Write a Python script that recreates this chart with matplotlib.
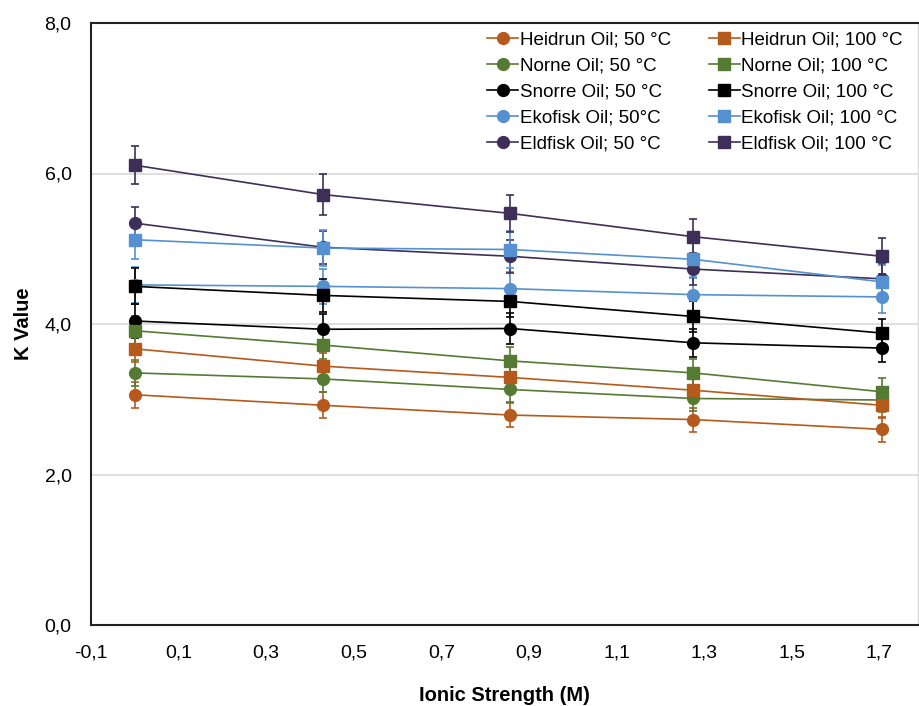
import matplotlib.pyplot as plt
from matplotlib.lines import Line2D

plt.rcParams['font.family'] = ['Liberation Sans', 'DejaVu Sans']

# ionic strength (M)
ionic = [0.0, 0.43, 0.857, 1.275, 1.705]

# K values, 50 °C series
heidrun_50 = [3.06, 2.92, 2.79, 2.73, 2.60]
norne_50 = [3.35, 3.27, 3.13, 3.01, 2.99]
snorre_50 = [4.04, 3.93, 3.94, 3.75, 3.68]
ekofisk_50 = [4.52, 4.50, 4.47, 4.39, 4.36]
eldfisk_50 = [5.34, 5.02, 4.90, 4.73, 4.60]

# K values, 100 °C series
heidrun_100 = [3.67, 3.44, 3.29, 3.12, 2.92]
norne_100 = [3.91, 3.72, 3.51, 3.35, 3.10]
snorre_100 = [4.50, 4.38, 4.30, 4.10, 3.88]
ekofisk_100 = [5.12, 5.01, 4.99, 4.86, 4.56]
eldfisk_100 = [6.11, 5.72, 5.47, 5.16, 4.90]

# error bars
heidrun_50_err = [0.17, 0.17, 0.16, 0.16, 0.17]
norne_50_err = [0.17, 0.17, 0.16, 0.16, 0.16]
snorre_50_err = [0.22, 0.20, 0.20, 0.19, 0.18]
ekofisk_50_err = [0.24, 0.23, 0.22, 0.22, 0.21]
eldfisk_50_err = [0.21, 0.22, 0.22, 0.21, 0.20]
heidrun_100_err = [0.18, 0.18, 0.17, 0.17, 0.17]
norne_100_err = [0.19, 0.19, 0.18, 0.18, 0.18]
snorre_100_err = [0.24, 0.22, 0.21, 0.20, 0.18]
ekofisk_100_err = [0.25, 0.24, 0.24, 0.23, 0.22]
eldfisk_100_err = [0.25, 0.27, 0.25, 0.23, 0.24]

xticks = [-0.1, 0.1, 0.3, 0.5, 0.7, 0.9, 1.1, 1.3, 1.5, 1.7]
xtick_labels = ['-0,1', '0,1', '0,3', '0,5', '0,7', '0,9', '1,1', '1,3', '1,5', '1,7']
yticks = [0, 2, 4, 6, 8]
ytick_labels = ['0,0', '2,0', '4,0', '6,0', '8,0']

c_heidrun = '#B55A1C'
c_norne = '#557A32'
c_snorre = '#000000'
c_ekofisk = '#5591D0'
c_eldfisk = '#3E2F58'

series = [
    ('Heidrun Oil; 50 °C', heidrun_50, heidrun_50_err, c_heidrun, 'o'),
    ('Norne Oil; 50 °C', norne_50, norne_50_err, c_norne, 'o'),
    ('Snorre Oil; 50 °C', snorre_50, snorre_50_err, c_snorre, 'o'),
    ('Ekofisk Oil; 50°C', ekofisk_50, ekofisk_50_err, c_ekofisk, 'o'),
    ('Eldfisk Oil; 50 °C', eldfisk_50, eldfisk_50_err, c_eldfisk, 'o'),
    ('Heidrun Oil; 100 °C', heidrun_100, heidrun_100_err, c_heidrun, 's'),
    ('Norne Oil; 100 °C', norne_100, norne_100_err, c_norne, 's'),
    ('Snorre Oil; 100 °C', snorre_100, snorre_100_err, c_snorre, 's'),
    ('Ekofisk Oil; 100 °C', ekofisk_100, ekofisk_100_err, c_ekofisk, 's'),
    ('Eldfisk Oil; 100 °C', eldfisk_100, eldfisk_100_err, c_eldfisk, 's'),
]

fig = plt.figure(figsize=(9.19, 7.06), dpi=100)
ax = fig.add_axes([91 / 919, 1 - 625 / 706, 827 / 919, 602 / 706])

handles = []
for label, y, err, color, marker in series:
    ms = 8.5 if marker == 'o' else 8.2
    ax.errorbar(ionic, y, yerr=err, color=color, marker=marker, markersize=ms,
                linewidth=1.2, elinewidth=1.2, capsize=2.8, capthick=1.2, zorder=3)
    handles.append(Line2D([], [], color=color, marker=marker, markersize=ms,
                          linewidth=1.2, label=label))

ax.set_xlim(-0.1, 1.788)
ax.set_ylim(0, 8)
ax.set_xticks(xticks)
ax.set_xticklabels(xtick_labels)
ax.set_yticks(yticks)
ax.set_yticklabels(ytick_labels)
ax.tick_params(length=0, labelsize=14)
ax.tick_params(axis='x', pad=14)
ax.tick_params(axis='y', pad=14)
ax.yaxis.grid(True, color='#D9D9D9', linewidth=1.2)
ax.set_axisbelow(True)
for side in ['left', 'bottom', 'top']:
    ax.spines[side].set_color('#222222')
    ax.spines[side].set_linewidth(1.5)
ax.spines['right'].set_color('#D9D9D9')
ax.spines['right'].set_linewidth(1.0)

ax.set_xlabel('Ionic Strength (M)', fontsize=14.5, fontweight='bold', labelpad=18)
ax.set_ylabel('K Value', fontsize=14.5, fontweight='bold', labelpad=8)

ax.legend(handles=handles, ncol=2, loc='upper left', frameon=False,
          fontsize=13.5, handlelength=1.65, handletextpad=0.1,
          columnspacing=2.0, labelspacing=0.47, borderpad=0,
          borderaxespad=0, bbox_to_anchor=(0.479, 0.986))

fig.savefig('out.png', dpi=100)
